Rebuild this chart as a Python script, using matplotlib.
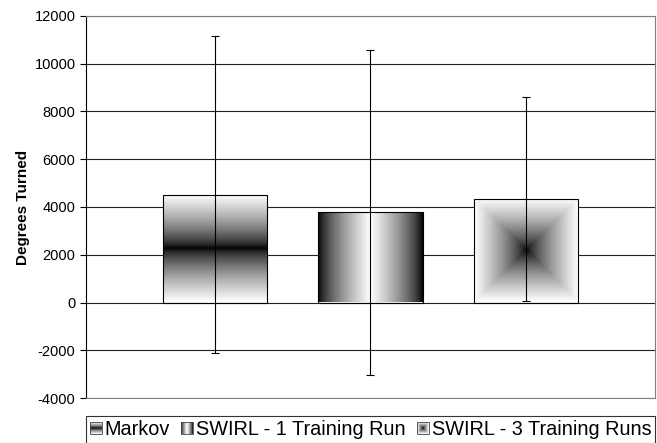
import numpy as np
import matplotlib
matplotlib.use("Agg")
import matplotlib.pyplot as plt
from matplotlib.patches import Rectangle
from matplotlib.image import BboxImage
from matplotlib.transforms import Bbox, TransformedBbox
from matplotlib.colors import Normalize

# series (one category, three series)
series = ["Markov", "SWIRL - 1 Training Run", "SWIRL - 3 Training Runs"]
means = [4520, 3780, 4350]
errors = [6640, 6800, 4270]
y_ticks = [-4000, -2000, 0, 2000, 4000, 6000, 8000, 10000, 12000]

plt.rcParams["font.family"] = ["Liberation Sans", "DejaVu Sans"]
plt.rcParams["axes.unicode_minus"] = False

# gradient fills (0 = black, 1 = white)
n = 200
u = np.linspace(0, 1, n)
U, V = np.meshgrid(u, u)
gamma = 0.7
grad_markov = (np.abs(V - 0.5) * 2) ** gamma            # dark band across the middle
grad_swirl1 = (1 - np.abs(U - 0.5) * 2) ** gamma        # dark at the sides
grad_swirl3 = (np.maximum(np.abs(U - 0.5), np.abs(V - 0.5)) * 2) ** gamma  # dark centre
grads = [grad_markov, grad_swirl1, grad_swirl3]

fig = plt.figure(figsize=(6.57, 4.43), dpi=100)
ax = fig.add_axes([86 / 657, 1 - 398 / 443, 569 / 657, 382 / 443])

xpos = np.array([-1, 0, 1])
width = 0.67
bars = ax.bar(xpos, means, width=width, facecolor="none", edgecolor="black",
              linewidth=0.8, zorder=3)
for b, g in zip(bars, grads):
    x0, y0 = b.get_x(), b.get_y()
    im = ax.imshow(g, cmap="gray", norm=Normalize(0, 1), interpolation="bilinear",
                   extent=[x0, x0 + b.get_width(), y0, y0 + b.get_height()],
                   origin="lower", aspect="auto", zorder=2)
    im.set_clip_path(b)

ax.errorbar(xpos, means, yerr=errors, fmt="none", ecolor="black",
            elinewidth=0.8, capsize=3, capthick=0.8, zorder=4)

ax.set_xlim(-1.83, 1.83)
ax.set_ylim(-4000, 12000)
ax.set_yticks(y_ticks)
ax.set_xticks([])
ax.tick_params(axis="y", direction="out", length=4, width=0.8, labelsize=10.5)
ax.yaxis.grid(True, color="#222222", linewidth=0.8)
ax.set_axisbelow(True)
for side in ["top", "right", "bottom"]:
    ax.spines[side].set_color("#808080")
ax.spines["left"].set_color("black")
ax.set_ylabel("Degrees Turned", fontsize=11, fontweight="bold", labelpad=3)


class GradHandler:
    def __init__(self, arr):
        self.arr = arr

    def legend_artist(self, legend, orig_handle, fontsize, handlebox):
        x0, y0 = -handlebox.xdescent, -handlebox.ydescent
        s = min(handlebox.width, handlebox.height)
        tr = handlebox.get_transform()
        bb = TransformedBbox(Bbox.from_bounds(x0, y0, s, s), tr)
        img = BboxImage(bb, cmap="gray", norm=Normalize(0, 1), interpolation="bilinear")
        img.set_data(self.arr)
        handlebox.add_artist(img)
        rect = Rectangle((x0, y0), s, s, facecolor="none", edgecolor="#444444",
                         linewidth=0.6, transform=tr)
        handlebox.add_artist(rect)
        return rect


handles = [Rectangle((0, 0), 1, 1) for _ in series]
leg = fig.legend(handles, series, loc="upper left",
                 bbox_to_anchor=(86 / 657, 1 - 416 / 443), ncol=3,
                 handler_map={h: GradHandler(g) for h, g in zip(handles, grads)},
                 fontsize=14.3, frameon=True, fancybox=False, edgecolor="black",
                 handlelength=0.6, handleheight=0.6, handletextpad=0.15,
                 columnspacing=0.55, borderpad=0.2, borderaxespad=0)
leg.get_frame().set_linewidth(0.8)

fig.savefig("out.png", dpi=100)
